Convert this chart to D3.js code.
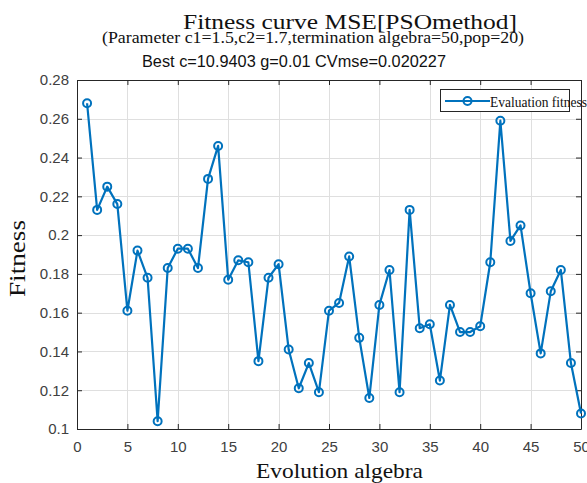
<!DOCTYPE html>
<html>
<head>
<meta charset="utf-8">
<script src="https://cdn.jsdelivr.net/npm/d3@7"></script>
<style>
  html, body { margin: 0; padding: 0; background: #fff; }
  svg { display: block; }
</style>
</head>
<body>
<svg id="chart" width="587" height="483"></svg>
<script>
// Fitness value of the best particle at every generation
const generations = d3.range(1, 51);
const fitness = [
  0.268, 0.213, 0.225, 0.216, 0.161, 0.192, 0.178, 0.104, 0.183, 0.193,
  0.193, 0.183, 0.229, 0.246, 0.177, 0.187, 0.186, 0.135, 0.178, 0.185,
  0.141, 0.121, 0.134, 0.119, 0.161, 0.165, 0.189, 0.147, 0.116, 0.164,
  0.182, 0.119, 0.213, 0.152, 0.154, 0.125, 0.164, 0.150, 0.150, 0.153,
  0.186, 0.259, 0.197, 0.205, 0.170, 0.139, 0.171, 0.182, 0.134, 0.108
];
const xTicks = [0, 5, 10, 15, 20, 25, 30, 35, 40, 45, 50];
const yTicks = [0.1, 0.12, 0.14, 0.16, 0.18, 0.2, 0.22, 0.24, 0.26, 0.28];
const titleLines = [
  "Fitness curve MSE[PSOmethod]",
  "(Parameter c1=1.5,c2=1.7,termination algebra=50,pop=20)"
];
const subtitle = "Best c=10.9403 g=0.01 CVmse=0.020227";
const seriesName = "Evaluation fitness";

const svg = d3.select("#chart");
const plot = { left: 77, right: 581, top: 80, bottom: 429 };
const blue = "#0072BD";
const axisColor = "#262626";
const labelColor = "#404040";
const serif = "'Liberation Serif', 'Times New Roman', serif";
const sans = "'Liberation Sans', Arial, sans-serif";

const x = d3.scaleLinear().domain([0, 50]).range([plot.left, plot.right]);
const y = d3.scaleLinear().domain([0.1, 0.28]).range([plot.bottom, plot.top]);

// grid
const grid = svg.append("g").attr("stroke", "#dfdfdf").attr("stroke-width", 1);
grid.selectAll("line.v").data(xTicks.slice(1, -1)).join("line")
  .attr("x1", d => Math.round(x(d)) + 0.5).attr("x2", d => Math.round(x(d)) + 0.5)
  .attr("y1", plot.top).attr("y2", plot.bottom);
grid.selectAll("line.h").data(yTicks.slice(1, -1)).join("line")
  .attr("y1", d => Math.round(y(d)) + 0.5).attr("y2", d => Math.round(y(d)) + 0.5)
  .attr("x1", plot.left).attr("x2", plot.right);

// axes (ticks inward, box on)
const tickLen = 5;
const xAxis = d3.axisBottom(x).tickValues(xTicks).tickFormat(d3.format("d"))
  .tickSizeInner(-tickLen).tickSizeOuter(0).tickPadding(12);
const yAxis = d3.axisLeft(y).tickValues(yTicks).tickFormat(d => d3.format("")(+d.toFixed(2)))
  .tickSizeInner(-tickLen).tickSizeOuter(0).tickPadding(8);
const xTop = d3.axisTop(x).tickValues(xTicks).tickFormat("").tickSizeInner(-tickLen).tickSizeOuter(0);
const yRight = d3.axisRight(y).tickValues(yTicks).tickFormat("").tickSizeInner(-tickLen).tickSizeOuter(0);

function styleAxis(g) {
  g.selectAll("path, line").attr("stroke", axisColor).attr("stroke-width", 1);
  g.selectAll("text").attr("fill", labelColor).style("font-family", sans).style("font-size", "15px");
}
svg.append("g").attr("transform", `translate(0,${plot.bottom})`).call(xAxis).call(styleAxis);
svg.append("g").attr("transform", `translate(${plot.left},0)`).call(yAxis).call(styleAxis);
svg.append("g").attr("transform", `translate(0,${plot.top})`).call(xTop).call(styleAxis);
svg.append("g").attr("transform", `translate(${plot.right},0)`).call(yRight).call(styleAxis);

// series
const pts = generations.map((g, i) => [g, fitness[i]]);
svg.append("path").datum(pts)
  .attr("fill", "none").attr("stroke", blue).attr("stroke-width", 2.2)
  .attr("stroke-linejoin", "round")
  .attr("d", d3.line().x(d => x(d[0])).y(d => y(d[1])));
svg.append("g").selectAll("circle").data(pts).join("circle")
  .attr("cx", d => x(d[0])).attr("cy", d => y(d[1])).attr("r", 4)
  .attr("fill", "none").attr("stroke", blue).attr("stroke-width", 2);

// titles (stretched to the figure's wide letterforms)
function stretchedText(px, py, size, family, len, str) {
  return svg.append("text").attr("x", px).attr("y", py)
    .attr("textLength", len).attr("lengthAdjust", "spacingAndGlyphs")
    .style("font-family", family).style("font-size", size + "px").attr("fill", "#111")
    .text(str);
}
stretchedText(183, 29, 21, serif, 334, titleLines[0]);
stretchedText(102, 42.5, 16.5, serif, 422, titleLines[1]);
stretchedText(142, 66.5, 15.8, sans, 304, subtitle);

// axis labels
stretchedText(256, 478, 22, serif, 167, "Evolution algebra");
svg.append("text").attr("transform", "translate(25,297) rotate(-90)")
  .attr("textLength", 77).attr("lengthAdjust", "spacingAndGlyphs")
  .style("font-family", serif).style("font-size", "24px").attr("fill", "#111")
  .text("Fitness");

// legend
const lg = svg.append("g");
lg.append("rect").attr("x", 440.5).attr("y", 89.5).attr("width", 129).attr("height", 22)
  .attr("fill", "#fff").attr("stroke", axisColor).attr("stroke-width", 1);
lg.append("line").attr("x1", 445).attr("x2", 490).attr("y1", 101).attr("y2", 101)
  .attr("stroke", blue).attr("stroke-width", 2.2);
lg.append("circle").attr("cx", 467.5).attr("cy", 101).attr("r", 4)
  .attr("fill", "none").attr("stroke", blue).attr("stroke-width", 2);
stretchedText(490, 106.5, 15, serif, 97, seriesName);
</script>
</body>
</html>
